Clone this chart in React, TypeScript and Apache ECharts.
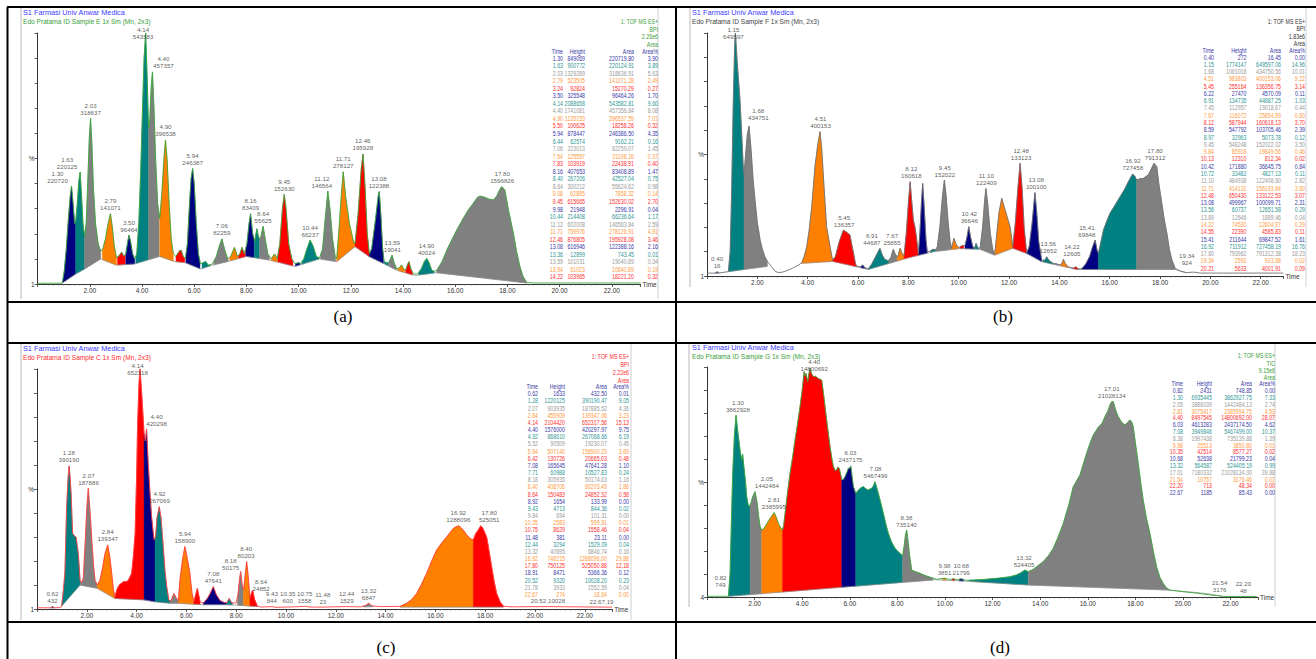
import React, { useEffect, useRef } from 'react';
import * as echarts from 'echarts';

const FONT = '"Liberation Sans", Arial, Helvetica, sans-serif';
const FILL = ['#000080', '#008080', '#808080', '#ff8000', '#ff0000'];
const TXT = ['#3a3aa6', '#2e9696', '#9a9a9a', '#ff9a40', '#ff3030'];
const COL_HEAD = ['Time', 'Height', 'Area', 'Area%'];
const INSTITUTE = 'S1 Farmasi Univ Anwar Medica';

// ================= Panel (a) =================
const curveA = [[0,0.3],[0.9,0.3],[0.95,0.6],[1.02,5],[1.1,14],[1.18,26],[1.25,35],[1.3,39],[1.36,32],[1.42,24],[1.46,25],[1.52,32],[1.58,41],[1.63,44.6],[1.68,36],[1.74,24],[1.8,19],[1.86,24],[1.92,40],[1.98,58],[2.03,66],[2.08,56],[2.14,38],[2.22,24],[2.32,16],[2.42,13],[2.5,14],[2.6,18],[2.7,24],[2.79,28],[2.86,23],[2.94,15],[3.02,10.5],[3.1,11],[3.2,12.5],[3.24,12.5],[3.3,11],[3.38,12],[3.44,16],[3.5,19.5],[3.56,17],[3.64,12],[3.72,10],[3.8,12],[3.88,25],[3.95,45],[4.02,70],[4.08,90],[4.14,100],[4.2,82],[4.25,62],[4.3,66],[4.35,78],[4.4,84.5],[4.46,70],[4.52,50],[4.6,32],[4.68,26],[4.76,36],[4.84,50],[4.9,57.4],[4.96,50],[5.04,32],[5.12,18],[5.2,12],[5.3,11],[5.42,13],[5.5,13.5],[5.58,11],[5.66,10],[5.74,16],[5.82,32],[5.88,42],[5.94,46],[6.0,40],[6.08,24],[6.16,12],[6.24,8],[6.34,8.5],[6.44,9],[6.54,7.5],[6.7,8],[6.85,11],[6.96,15],[7.06,18],[7.16,14],[7.28,10],[7.4,11],[7.54,14.6],[7.66,11],[7.75,12],[7.83,14.6],[7.92,12],[8.02,16],[8.1,24],[8.16,28],[8.24,20],[8.32,17],[8.4,22],[8.48,18],[8.56,19],[8.64,23],[8.72,18],[8.82,12],[8.95,10],[9.08,12],[9.18,10],[9.28,16],[9.38,30],[9.45,35.7],[9.52,30],[9.62,16],[9.74,10],[9.86,8],[9.98,8.5],[10.08,8.2],[10.2,10],[10.32,14],[10.44,17.5],[10.56,15],[10.68,11],[10.8,10.3],[10.92,14],[11.02,26],[11.12,37],[11.2,30],[11.3,18],[11.4,11],[11.46,10],[11.55,22],[11.64,36],[11.71,44.7],[11.8,35],[11.95,24],[12.1,17],[12.16,16],[12.28,28],[12.4,46],[12.47,51.8],[12.55,38],[12.63,20],[12.71,12],[12.8,14],[12.95,26],[13.05,35],[13.09,36.8],[13.15,28],[13.22,14],[13.28,9],[13.36,8.5],[13.45,8.5],[13.52,10],[13.58,11.5],[13.66,8.5],[13.76,6],[13.86,6.5],[13.95,7.6],[14.02,6],[14.1,5.5],[14.18,8],[14.23,8.9],[14.3,6],[14.4,4],[14.55,4],[14.7,6],[14.82,9],[14.91,10.2],[15.0,8.5],[15.1,5.5],[15.2,5],[15.3,5.5],[15.5,9],[15.7,14],[15.93,18.8],[16.06,21.5],[16.3,26],[16.5,29.5],[16.69,32.1],[16.85,34.5],[16.95,35],[17.05,34.8],[17.14,34.5],[17.3,33.8],[17.46,33.5],[17.59,35],[17.7,37.5],[17.78,38.8],[17.9,37.5],[18.05,29],[18.23,20.2],[18.35,13],[18.48,6.9],[18.6,3],[18.74,0.6],[19.0,0.4],[23.1,0.4]];
const baseA = [[0.93,0.3],[1.46,4],[1.8,6],[2.42,10],[3.02,7.5],[3.72,8],[4.68,11],[5.22,9],[5.66,8.5],[6.24,6],[6.7,7.5],[7.3,9],[8.0,11],[8.9,9.5],[9.86,7],[10.8,10],[11.46,8.9],[12.16,14.9],[12.71,10.9],[13.25,8.2],[13.76,5.5],[14.4,3.5],[14.55,3.5],[15.29,4.5],[18.74,0.4]];
const segA = [[0.95,1.46,0],[1.46,1.8,1],[1.8,2.42,2],[2.48,3.02,3],[3.06,3.36,4],[3.38,3.72,0],[3.76,4.25,1],[4.25,4.66,2],[4.68,5.2,3],[5.3,5.64,4],[5.68,6.22,0],[6.3,6.6,1],[6.75,7.3,2],[7.36,7.68,3],[7.7,7.96,4],[7.98,8.3,0],[8.3,8.5,1],[8.5,8.88,2],[8.95,9.18,3],[9.2,9.78,4],[9.88,10.06,0],[10.12,10.78,1],[10.84,11.42,2],[11.46,12.16,3],[12.16,12.71,4],[12.71,13.25,0],[13.28,13.44,1],[13.46,13.74,2],[13.8,14.06,3],[14.1,14.36,4],[14.6,15.2,1],[15.29,18.74,2]];
const labelsA = [[1.30,39,'220720'],[1.63,44.6,'220125'],[2.03,66,'318637'],[2.79,28,'141071'],[3.50,19.5,'96464'],[4.14,100,'543583'],[4.40,84.5,'457357'],[4.90,57.4,'396538'],[5.94,46,'246387'],[7.06,18,'82259'],[8.16,28,'83409'],[8.64,23,'55625'],[9.45,35.7,'152630'],[10.44,17.5,'66237'],[11.12,37,'146564'],[11.71,44.7,'278127'],[12.46,51.8,'195928'],[13.08,36.8,'122388'],[13.59,11.5,'19041'],[14.90,10.2,'40024'],[17.80,38.8,'1596826']];
const headA = ['1: TOF MS ES+', 'BPI', '2.26e6', 'Area'];
const rowsA = [
  ['1.30','849069','220719.80','3.90'],['1.63','900772','220124.91','3.89'],['2.03','1329289','318636.91','5.63'],['2.79','523505','141071.28','2.49'],['3.24','92824','15270.29','0.27'],
  ['3.50','325548','96464.26','1.70'],['4.14','2088658','543582.81','9.60'],['4.40','1741081','457356.84','8.08'],['4.90','1135153','396537.59','7.01'],['5.50','100625','18258.26','0.32'],
  ['5.94','878447','246386.50','4.35'],['6.44','62574','9162.21','0.16'],['7.06','223013','82259.07','1.45'],['7.54','125557','21198.16','0.37'],['7.83','103919','22438.91','0.40'],
  ['8.16','407653','83408.89','1.47'],['8.40','267206','42527.04','0.75'],['8.64','300212','55624.62','0.98'],['9.08','62895','7858.32','0.14'],['9.45','615665','152630.02','2.70'],
  ['9.98','21948','2296.91','0.04'],['10.44','214408','66236.64','1.17'],['11.12','602008','146563.84','2.59'],['11.71','759976','278126.91','4.91'],['12.46','876805','195928.08','3.46'],
  ['13.08','616946','122388.16','2.16'],['13.36','12899','743.45','0.01'],['13.59','101031','19040.89','0.34'],['13.94','51023','10640.89','0.19'],['14.22','103965','18221.20','0.32']
];

// ================= Panel (b) =================
const curveB = [[0,1.2],[0.35,1.2],[0.4,1.8],[0.45,1.2],[0.85,1.8],[0.92,10],[0.98,35],[1.04,70],[1.1,95],[1.13,100],[1.2,88],[1.31,72.4],[1.38,58],[1.44,45],[1.47,42],[1.52,48],[1.6,58],[1.67,61.7],[1.75,52],[1.83,40],[1.91,31],[2.0,22],[2.11,14.8],[2.2,11],[2.3,7.9],[2.4,6],[2.57,3.8],[2.7,2],[2.83,1.4],[3.0,1.6],[3.17,2.2],[3.4,3.2],[3.63,4.5],[3.76,5.4],[3.86,8],[3.96,12],[4.06,19],[4.16,28.5],[4.29,45],[4.4,54],[4.49,59.4],[4.56,52],[4.65,36.7],[4.75,20.3],[4.89,12],[4.99,6.5],[5.1,8],[5.25,14],[5.35,17],[5.42,18.9],[5.55,18],[5.68,16.9],[5.75,13],[5.82,9.5],[5.9,5],[5.95,4],[6.1,3.8],[6.19,4.5],[6.26,3.5],[6.41,2.9],[6.55,5],[6.7,8],[6.87,11.4],[6.95,9],[7.05,7],[7.2,6.2],[7.3,7.5],[7.4,11],[7.5,8.5],[7.58,8],[7.67,11.4],[7.76,9],[7.83,8.5],[7.92,18],[8.0,30],[8.07,38.8],[8.14,30],[8.2,23],[8.26,20.3],[8.32,16],[8.4,9],[8.46,18],[8.52,30],[8.57,38.1],[8.63,28],[8.7,15],[8.75,10],[8.85,10.2],[8.98,11],[9.08,10.8],[9.15,12],[9.25,20],[9.35,32],[9.43,39.5],[9.5,33],[9.58,22],[9.66,14],[9.72,11.5],[9.81,15.5],[9.9,13],[10.0,11.6],[10.13,12.5],[10.25,12.5],[10.33,16],[10.4,20.3],[10.47,16],[10.56,12],[10.63,11.5],[10.69,13.5],[10.76,11.5],[10.85,11.5],[10.95,20],[11.03,31],[11.08,36],[11.15,30],[11.25,18],[11.35,11],[11.43,9],[11.5,16],[11.6,26],[11.71,32],[11.85,27],[12.04,20.3],[12.15,12],[12.25,22],[12.35,36],[12.44,46.4],[12.52,36],[12.6,20],[12.7,9.5],[12.8,12],[12.92,22],[13.03,34.3],[13.1,26],[13.18,14],[13.3,6.5],[13.42,6.5],[13.5,7.9],[13.58,6.5],[13.75,5.2],[13.89,5],[14.0,4.6],[14.1,5],[14.16,6.9],[14.24,5],[14.35,3.8],[14.55,3.2],[14.65,3.8],[14.75,3],[14.89,3],[15.05,5],[15.2,8],[15.32,12],[15.42,14.8],[15.5,10.5],[15.55,9.3],[15.65,14],[15.75,18.9],[15.88,22.5],[16.01,25.8],[16.2,29],[16.41,32.6],[16.58,35.5],[16.74,38.8],[16.91,42],[17.0,41],[17.07,39.5],[17.2,40],[17.34,40.2],[17.53,41.6],[17.65,44],[17.76,46.4],[17.87,45],[17.95,38],[18.07,29.9],[18.17,23],[18.27,17.6],[18.37,11],[18.47,6.6],[18.6,3.2],[18.8,2],[19.06,1.4],[19.34,1.6],[19.6,1.2],[22.9,1.2]];
const baseB = [[0.33,1.2],[0.47,1.2],null,[0.85,1.8],[2.4,4],null,[3.76,5.2],[4.99,6],[5.95,3.8],[6.41,2.7],[7.93,7.3],[8.99,10],[10.05,11.3],[10.85,11],[11.43,8.6],[12.15,11.4],[12.7,9.3],[13.3,5.9],[14.69,2.7],[18.6,2.7],[19.06,1.2]];
const segB = [[0.33,0.47,0],[0.85,1.47,1],[1.47,2.4,2],[3.76,4.99,3],[4.99,5.95,4],[6.1,6.3,0],[6.41,7.22,1],[7.22,7.56,2],[7.56,7.83,3],[7.83,8.4,4],[8.4,8.75,0],[8.88,9.08,1],[9.1,9.72,2],[9.72,10.0,3],[10.05,10.2,4],[10.25,10.6,0],[10.62,10.8,1],[10.85,11.43,2],[11.43,12.15,3],[12.15,12.7,4],[12.7,13.3,0],[13.35,13.75,1],[13.78,14.0,2],[14.04,14.35,3],[14.5,14.75,4],[14.89,15.55,0],[15.55,17.07,1],[17.07,18.6,2]];
const labelsB = [[0.40,1.8,'16'],[1.15,100,'649597'],[1.68,61.7,'434751'],[4.51,59.4,'400153'],[5.45,18.9,'136357'],[6.91,11.4,'44687'],[7.67,11.4,'25855'],[8.12,38.8,'160618'],[9.45,39.5,'152022'],[10.42,20.3,'36646'],[11.10,36,'122409'],[12.48,46.4,'133123'],[13.08,34.3,'100100'],[13.56,7.9,'12652'],[14.22,6.9,'12605'],[15.41,14.8,'69848'],[16.92,42,'727458'],[17.80,46.4,'791312'],[19.34,1.6,'924']];
const headB = ['1: TOF MS ES+', 'BPI', '1.83e6', 'Area'];
const rowsB = [
  ['0.40','272','16.45','0.00'],['1.15','1774147','649597.06','14.96'],['1.68','1061018','434750.56','10.01'],['4.51','983803','400153.06','9.22'],['5.45','255164','136356.75','3.14'],
  ['6.22','27470','4570.09','0.11'],['6.91','134735','44687.25','1.03'],['7.45','112957','19018.67','0.44'],['7.67','116072','25854.99','0.60'],['8.12','587944','160618.13','3.70'],
  ['8.59','547792','103705.46','2.39'],['8.97','32963','5073.78','0.12'],['9.45','548248','152022.02','3.50'],['9.84','85918','19849.56','0.46'],['10.13','12310','812.34','0.02'],
  ['10.42','171880','36645.75','0.84'],['10.72','33482','4827.13','0.11'],['11.10','484938','122408.60','2.82'],['11.71','414131','156193.64','3.60'],['12.48','650430','133122.53','3.07'],
  ['13.08','499967','100099.71','2.31'],['13.56','60737','12651.58','0.29'],['13.89','12646','1889.46','0.04'],['14.22','74530','12604.97','0.29'],['14.55','22390','4585.83','0.11'],
  ['15.41','211644','69847.52','1.61'],['16.92','711912','727458.19','16.76'],['17.80','793962','791312.38','18.23'],['19.34','2593','923.68','0.02'],['20.21','5633','4001.91','0.09']
];

// ================= Panel (c) =================
const curveC = [[0,0.5],[0.55,0.5],[0.62,1],[0.7,0.5],[0.95,0.6],[0.99,1.2],[1.06,8],[1.12,15],[1.19,42.6],[1.25,55],[1.29,59.6],[1.33,55],[1.37,48],[1.43,31.5],[1.5,30.5],[1.57,30],[1.66,23],[1.73,12],[1.8,11],[1.86,13],[1.94,28.8],[2.0,42],[2.06,50.3],[2.12,42],[2.2,28.8],[2.27,18],[2.33,12],[2.42,10],[2.53,12],[2.63,17],[2.73,23],[2.84,26.7],[2.92,22],[3.0,14.9],[3.07,8],[3.13,5],[3.2,7.9],[3.3,10],[3.47,11.4],[3.6,11.5],[3.67,12],[3.8,14.9],[3.87,22],[3.94,31.5],[4.0,55],[4.04,77],[4.1,95],[4.14,100],[4.19,92],[4.24,84],[4.3,73],[4.35,70],[4.4,75],[4.47,60],[4.54,48],[4.6,38.5],[4.7,28.8],[4.76,30],[4.82,38],[4.91,42.6],[4.98,38],[5.07,26],[5.14,16],[5.21,9.3],[5.3,3.5],[5.38,3.5],[5.5,6.5],[5.6,4.5],[5.68,3.5],[5.74,12],[5.85,21],[5.94,26],[6.02,22],[6.14,14.9],[6.22,7],[6.3,3],[6.44,8.6],[6.55,3],[6.68,2.5],[6.85,4.5],[6.98,7],[7.08,9.3],[7.2,6],[7.35,3.5],[7.5,2.8],[7.62,2.5],[7.72,4.4],[7.82,2.6],[8.0,2.5],[8.07,6],[8.14,13],[8.18,15.6],[8.24,10],[8.3,8],[8.36,14],[8.42,19.7],[8.48,14],[8.55,4.5],[8.62,7],[8.66,7.9],[8.74,4],[8.85,1.2],[9.0,0.8],[9.43,1],[9.6,0.7],[10.35,0.9],[10.75,1.1],[11.0,0.8],[11.48,0.8],[12.44,1],[13.0,0.9],[13.2,1.5],[13.32,2.4],[13.45,1.3],[13.8,1],[14.58,1.1],[14.85,2.4],[15.05,4],[15.25,6.5],[15.45,10.5],[15.65,14.9],[15.85,20],[16.05,24.6],[16.25,27.5],[16.45,30],[16.6,32],[16.72,33.6],[16.92,34.7],[17.02,34],[17.12,32.9],[17.25,31],[17.39,29.4],[17.52,28.8],[17.62,31.5],[17.72,32.9],[17.82,34.7],[17.9,33.8],[18.06,30],[18.16,24],[18.26,17.6],[18.36,11.5],[18.46,6.5],[18.6,3],[18.73,1.2],[19.0,0.9],[20.5,1],[22.7,0.8],[23.1,0.8]];
const baseC = [[0.55,0.5],[0.7,0.5],null,[0.99,1.2],[1.73,10],[2.42,8.6],[3.13,4.4],[4.3,3.8],[4.74,3],[5.34,2.4],[5.68,2.4],[6.3,2.0],[6.68,1.8],[7.62,1.8],[8.05,1.6],[8.85,1],null,[13.1,0.9],[13.5,1],null,[14.58,0.8],[18.73,0.8]];
const segC = [[0.55,0.7,0],[0.99,1.73,1],[1.73,2.42,2],[2.42,3.13,3],[3.13,4.3,4],[4.3,4.74,0],[4.74,5.34,1],[5.34,5.68,2],[5.68,6.3,3],[6.3,6.55,4],[6.68,7.62,0],[7.62,7.85,1],[8.05,8.29,2],[8.29,8.55,3],[8.55,8.85,4],[13.1,13.5,2],[14.58,17.52,3],[17.52,18.73,4]];
const labelsC = [[0.62,1,'432'],[1.28,59.6,'390190'],[2.07,50.3,'187886'],[2.84,26.7,'139347'],[4.14,100,'652318'],[4.40,75,'420298'],[4.92,42.6,'267069'],[5.94,26,'158900'],[7.08,9.3,'47641'],[8.18,15.6,'50175'],[8.40,19.7,'80203'],[8.64,7.9,'24852'],[9.43,1,'844'],[10.35,0.9,'600'],[10.75,1.1,'1558'],[11.48,0.8,'23'],[12.44,1,'1529'],[13.32,2.4,'6847'],[16.92,34.7,'1288096'],[17.80,34.7,'525051']];
const inlineC = [[20.52,1,'10028'],[22.67,0.8,'19']];
const headC = ['1: TOF MS ES+', 'BPI', '2.22e6', 'Area'];
const rowsC = [
  ['0.62','1633','432.50','0.01'],['1.28','1220125','390190.47','9.05'],['2.07','903935','187885.52','4.36'],['2.84','455909','139347.06','3.23'],['4.14','2104420','652317.56','15.13'],
  ['4.40','1576000','420297.97','9.75'],['4.92','868610','267068.66','6.19'],['5.52','90509','19230.07','0.45'],['5.94','507140','158900.23','3.69'],['6.42','130726','20665.03','0.48'],
  ['7.08','165645','47641.28','1.10'],['7.71','60988','10527.83','0.24'],['8.18','305935','50174.63','1.16'],['8.40','408706','80203.49','1.86'],['8.64','150483','24852.32','0.58'],
  ['8.92','1654','133.99','0.00'],['9.43','4713','844.36','0.02'],['9.84','694','101.31','0.00'],['10.35','2583','599.91','0.01'],['10.75','8629','1558.46','0.04'],
  ['11.48','381','23.11','0.00'],['12.44','3294','1529.09','0.04'],['13.32','40695','6846.74','0.16'],['16.92','748215','1288096.00','29.88'],['17.80','750125','525050.88','12.18'],
  ['18.91','8471','5366.36','0.12'],['20.52','9320','10028.20','0.23'],['21.78','3933','1552.59','0.04'],['22.67','274','18.64','0.00']
];

// ================= Panel (d) =================
const curveD = [[0,0.3],[0.82,0.3],[0.9,0.3],[0.97,10.3],[1.03,35],[1.08,53.8],[1.15,70],[1.22,79],[1.27,74],[1.32,69.7],[1.4,63],[1.46,59.6],[1.5,62],[1.55,56.7],[1.62,50],[1.67,43.6],[1.73,40],[1.78,39.3],[1.85,41],[1.92,43.6],[2.02,45.8],[2.11,40.7],[2.17,35],[2.23,30.6],[2.3,29.1],[2.37,29.5],[2.44,30.6],[2.55,32.5],[2.65,34.2],[2.74,35.5],[2.82,36.7],[2.9,35],[3.0,32],[3.1,30],[3.17,29.1],[3.22,31],[3.28,36.4],[3.38,45],[3.49,53.8],[3.6,61],[3.7,68.3],[3.8,75],[3.91,82.8],[4.0,90],[4.08,98],[4.12,96],[4.16,97.2],[4.23,93.6],[4.28,97],[4.33,99.4],[4.4,97],[4.47,95.8],[4.55,96],[4.68,95],[4.82,94.3],[4.9,88],[4.96,82.8],[5.05,75],[5.17,65.4],[5.25,60],[5.31,56.7],[5.38,55],[5.45,55.2],[5.5,56.5],[5.56,55.9],[5.62,53],[5.66,50.9],[5.72,51],[5.8,52.3],[5.87,54],[5.94,55.9],[6.0,56],[6.04,57],[6.1,52],[6.15,48],[6.25,45],[6.36,46.5],[6.47,47.5],[6.57,48],[6.68,47],[6.78,46.5],[6.85,47],[6.92,47.2],[7.0,48.5],[7.06,50.1],[7.12,48],[7.2,45],[7.3,41],[7.41,36.4],[7.52,31.5],[7.62,27.7],[7.75,24],[7.9,21.2],[8.0,20],[8.11,19],[8.22,17.8],[8.28,21.9],[8.34,27],[8.39,29.1],[8.44,25],[8.5,19],[8.6,11.7],[8.75,11],[8.95,10.3],[9.15,9.4],[9.37,8.6],[9.65,7.7],[9.98,8.2],[10.2,7.6],[10.35,7.9],[10.5,7.5],[10.68,7.9],[10.9,7.2],[11.2,7.4],[11.6,7.6],[12.17,8.1],[12.73,8.8],[13.0,9.6],[13.15,10.3],[13.36,11.7],[13.5,11],[13.7,12],[13.85,13.2],[14.13,15.4],[14.35,18],[14.55,21.2],[14.75,26],[14.97,32],[15.2,40],[15.39,48],[15.67,53],[15.95,62.5],[16.1,67],[16.23,70.4],[16.44,73.8],[16.6,75.5],[16.72,78.4],[16.85,81],[16.93,83.5],[17.01,85],[17.07,84.9],[17.18,81],[17.28,78.4],[17.42,76],[17.56,74.8],[17.68,76],[17.77,77],[17.85,76],[17.91,74],[18.0,67],[18.12,58],[18.22,50],[18.33,42],[18.47,34],[18.61,27.7],[18.75,20],[18.89,13.2],[19.03,8.5],[19.17,5.9],[19.3,4],[19.45,3],[20.0,2.3],[20.5,1.8],[21.13,0.9],[21.54,0.5],[21.69,0.2],[22.2,0.2],[23.1,0.2]];
const baseD = [[0.9,0.3],[9.6,7.5],[11.0,6.8],[13.5,5.2],[19.45,3.0],[21.0,1.5],[21.7,0.2]];
const segD = [[0.9,1.81,1],[1.81,2.3,2],[2.3,3.17,3],[3.17,5.66,4],[5.66,6.25,0],[6.25,8.22,1],[8.22,9.5,2],[9.9,10.05,3],[10.3,10.42,4],[10.6,10.78,0],[11.0,13.5,1],[13.5,19.45,2]];
const labelsD = [[0.82,0.3,'749'],[1.30,79,'3862928'],[2.05,45.8,'1442484'],[2.81,36.7,'2385995'],[4.40,99.4,'14800692'],[6.03,57,'2437175'],[7.08,50.1,'5467499'],[8.38,29.1,'735140'],[9.98,8.2,'3851'],[10.68,7.9,'21799'],[13.32,11.7,'524405'],[17.01,85,'21028134'],[21.54,0.5,'3176'],[22.20,0.2,'48']];
const headD = ['1: TOF MS ES+', 'TIC', '9.15e6', 'Area'];
const rowsD = [
  ['0.82','2431','748.85','0.00'],['1.30','6935445','3862927.75','7.33'],['2.05','3886039','1442484.13','2.74'],['2.81','3075417','2385994.75','4.53'],['4.40','8497545','14800692.00','28.07'],
  ['6.03','4613283','2437174.50','4.62'],['7.08','3949846','5467499.00','10.37'],['8.38','1997438','735139.88','1.39'],['9.98','25513','3850.80','0.01'],['10.35','42514','8577.27','0.02'],
  ['10.68','52638','21799.23','0.04'],['13.32','564587','524405.19','0.99'],['17.01','7180332','21028134.00','39.88'],['21.54','10757','3176.46','0.01'],['22.20','713','48.34','0.00'],['22.67','1185','85.43','0.00']
];

const captions = ['(a)', '(b)', '(c)', '(d)'];

const PANELS = [
  { curve: curveA, base: baseA, seg: segA, labels: labelsA, inline: [], head: headA, rows: rowsA, sample: 'Edo Pratama ID Sample E 1x Sm (Mn, 2x3)' },
  { curve: curveB, base: baseB, seg: segB, labels: labelsB, inline: [], head: headB, rows: rowsB, sample: 'Edo Pratama ID Sample F 1x Sm (Mn, 2x3)' },
  { curve: curveC, base: baseC, seg: segC, labels: labelsC, inline: inlineC, head: headC, rows: rowsC, sample: 'Edo Pratama ID Sample C 1x Sm (Mn, 2x3)' },
  { curve: curveD, base: baseD, seg: segD, labels: labelsD, inline: [], head: headD, rows: rowsD, sample: 'Edo Pratama ID Sample G 1x Sm (Mn, 2x3)' },
];

// ---------- layout / style (pixels) ----------
const LAYOUT = [
  { x0: 37.6, ppm: 26.1, tmax: 23.1, top: 33, bottom: 284, tx: 23, t1y: 12, t2y: 21, cols: [563, 585, 634, 658], headY: 21.5, headStep: 7.8, colHeadY: 51.7, rowY: 58.3, rowStep: 7.55,
    lineColor: '#3aa63a', titleColor: '#3a9e3a', headColor: '#3a9e3a', ylab0: '1', labelPos: { '4.14': 'left' },
    labelOff: { '1.30': [-14, 0], '1.63': [-13, 0], '4.40': [11, 0], '11.12': [-6, 0] }, frame: [21, 7, 658, 299] },
  { x0: 707, ppm: 25.17, tmax: 22.9, top: 33, bottom: 276, tx: 692, t1y: 12, t2y: 21, cols: [1214, 1246.5, 1281, 1305], headY: 21.7, headStep: 7.4, colHeadY: 50.7, rowY: 57.3, rowStep: 7.28,
    lineColor: '#707070', titleColor: '#444444', headColor: '#333333', ylab0: '1', labelPos: { '1.15': 'left' },
    labelOff: { '1.68': [9, -3], '6.91': [-9, 0], '7.67': [-8, 0], '14.22': [7, 0], '15.41': [-8, 0], '19.34': [-7, -4] }, frame: [690, 7, 1306, 287] },
  { x0: 37, ppm: 24.9, tmax: 23.1, top: 369, bottom: 609, tx: 23, t1y: 348, t2y: 357, cols: [538, 565, 607, 629], headY: 357, headStep: 7.9, colHeadY: 386.7, rowY: 394, rowStep: 7.17,
    lineColor: '#ff4040', titleColor: '#ff2a2a', headColor: '#ff2a2a', ylab0: '1', labelPos: { '4.14': 'left' },
    labelOff: { '4.40': [10, 0], '8.18': [-10, 2], '8.64': [9, 4], '10.35': [-7, 0], '17.80': [9, 0] }, frame: [21, 344, 631, 620] },
  { x0: 707, ppm: 23.8, tmax: 23.15, top: 367, bottom: 597, tx: 692, t1y: 347, t2y: 356, cols: [1183, 1212, 1252, 1275], headY: 356, headStep: 7.3, colHeadY: 383.5, rowY: 391, rowStep: 6.8,
    lineColor: '#3aa63a', titleColor: '#3a9e3a', headColor: '#3a9e3a', ylab0: '4', labelPos: { '4.40': 'right' },
    labelOff: { '4.40': [0, -3], '2.05': [11, 0], '22.20': [8, 0], '0.82': [-6, -6] }, frame: [689, 344, 1275, 607] },
];
const TABLE_FONT = 6.6;
const TABLE_SCALE_X = 0.8;
const CAPTION_POS = [[343, 316], [1003, 316], [386, 647], [1000, 647]];
const HLINES = [[7, 7, 1316], [302, 7, 1316], [343, 7, 1316], [622, 7, 1316]];
const VLINES = [[7.5, 7, 659], [676, 7, 659]];

function interp(arr: any[], t: number): number | null {
  for (let i = 0; i < arr.length - 1; i++) {
    const a = arr[i], b = arr[i + 1];
    if (!a || !b) continue;
    if (t >= a[0] - 1e-9 && t <= b[0] + 1e-9) {
      const f = b[0] === a[0] ? 0 : (t - a[0]) / (b[0] - a[0]);
      return a[1] + f * (b[1] - a[1]);
    }
  }
  return null;
}

function txt(text: string, x: number, y: number, fill: string, size: number, align = 'left', family = FONT, sx = 1) {
  return {
    type: 'text', silent: true, z: 50, x, y, scaleX: sx, scaleY: 1,
    style: { text, x: 0, y: 0, fill, fontSize: size, fontFamily: family, align, textAlign: align, verticalAlign: 'middle', textVerticalAlign: 'middle' },
  };
}

function buildOption() {
  const grid: any[] = [], xAxis: any[] = [], yAxis: any[] = [], series: any[] = [], graphic: any[] = [];
  PANELS.forEach((P, i) => {
    const L: any = LAYOUT[i];
    grid.push({ left: L.x0, top: L.top, width: L.tmax * L.ppm, height: L.bottom - L.top });
    xAxis.push({
      gridIndex: i, type: 'value', min: 0, max: L.tmax, interval: 2,
      axisLine: { lineStyle: { color: '#333', width: 1 } },
      axisTick: { length: 3, lineStyle: { color: '#333', width: 0.8 } },
      minorTick: { show: true, splitNumber: 10, length: 1.5, lineStyle: { color: '#555', width: 0.6 } },
      splitLine: { show: false },
      axisLabel: {
        fontSize: 6.5, color: '#333', fontFamily: FONT, margin: 3,
        formatter: (v: number) => (v > 0 && Math.abs(v / 2 - Math.round(v / 2)) < 1e-6 ? v.toFixed(2) : ''),
      },
      name: 'Time', nameLocation: 'end', nameGap: 2,
      nameTextStyle: { fontSize: 6.5, color: '#333', fontFamily: FONT, verticalAlign: 'middle' },
    });
    yAxis.push({
      gridIndex: i, type: 'value', min: 0, max: 100, interval: 10,
      axisLine: { show: true, lineStyle: { color: '#333', width: 1 } },
      axisTick: { show: true, length: 3, lineStyle: { color: '#333', width: 0.8 } },
      splitLine: { show: false },
      axisLabel: { fontSize: 6.5, color: '#333', fontFamily: FONT, margin: 3, formatter: (v: number) => (v === 0 ? L.ylab0 : v === 50 ? '%' : '') },
    });
    const curve = P.curve, base = P.base;
    series.push({
      type: 'custom', xAxisIndex: i, yAxisIndex: i, silent: true, z: 2,
      data: P.seg,
      renderItem: (params: any, api: any) => {
        const s = api.value(0), e = api.value(1), c = api.value(2);
        const cs = interp(curve, s), ce = interp(curve, e);
        if (cs === null || ce === null) return null;
        let bs = interp(base, s), be = interp(base, e);
        const pts: number[][] = [];
        pts.push(api.coord([s, cs]));
        curve.forEach((p: number[]) => { if (p[0] > s && p[0] < e) pts.push(api.coord(p)); });
        pts.push(api.coord([e, ce]));
        if (bs === null || be === null) {
          bs = Math.min(cs, ce); be = bs;
          pts.push(api.coord([e, be]));
          pts.push(api.coord([s, bs]));
        } else {
          pts.push(api.coord([e, be]));
          const inner = base.filter((p: any) => p && p[0] > s && p[0] < e).reverse();
          inner.forEach((p: number[]) => pts.push(api.coord(p)));
          pts.push(api.coord([s, bs]));
        }
        return { type: 'polygon', shape: { points: pts }, style: { fill: FILL[c], stroke: FILL[c], lineWidth: 0.4 } };
      },
    });
    series.push({
      type: 'line', xAxisIndex: i, yAxisIndex: i, silent: true, z: 3, symbol: 'none',
      data: base.map((p: any) => (p ? p : ['-', '-'])), connectNulls: false,
      lineStyle: { color: '#8a8a8a', width: 0.7 },
    });
    series.push({
      type: 'line', xAxisIndex: i, yAxisIndex: i, silent: true, z: 4, symbol: 'none',
      data: curve, lineStyle: { color: L.lineColor, width: 0.9 },
    });
    series.push({
      type: 'scatter', xAxisIndex: i, yAxisIndex: i, silent: true, z: 6, symbolSize: 1,
      itemStyle: { color: 'rgba(0,0,0,0)' },
      data: P.labels.map((l: any) => {
        const key = l[0].toFixed(2);
        return {
          value: [l[0], l[1]], name: key + '\n' + l[2],
          label: { position: L.labelPos[key] || 'top', offset: L.labelOff[key] || [0, 0] },
        };
      }).concat(P.inline.map((l: any) => ({ value: [l[0], l[1]], name: l[0].toFixed(2) + ',' + l[2], label: { position: 'top', offset: [0, 0] } }))),
      label: { show: true, formatter: '{b}', fontSize: 6.2, lineHeight: 7, color: '#333', fontFamily: FONT, distance: 2, align: 'center' },
    });

    // titles
    graphic.push(txt(INSTITUTE, L.tx, L.t1y, '#3c3cff', 7.3));
    graphic.push(txt(P.sample, L.tx, L.t2y, L.titleColor, 6.6));
    // header block + peak table
    P.head.forEach((h: string, k: number) => graphic.push(txt(h, L.cols[3], L.headY + k * L.headStep, L.headColor, TABLE_FONT, 'right', FONT, TABLE_SCALE_X)));
    COL_HEAD.forEach((h, k) => graphic.push(txt(h, L.cols[k], L.colHeadY, TXT[0], TABLE_FONT, 'right', FONT, TABLE_SCALE_X)));
    P.rows.forEach((r: string[], ri: number) => {
      r.forEach((v, k) => graphic.push(txt(v, L.cols[k], L.rowY + ri * L.rowStep, TXT[ri % 5], TABLE_FONT, 'right', FONT, TABLE_SCALE_X)));
    });
    // image frame (left & right edges)
    const f = L.frame;
    graphic.push({ type: 'line', silent: true, shape: { x1: f[0], y1: f[1], x2: f[0], y2: f[3] }, style: { stroke: '#b8b8b8', lineWidth: 1 } });
    graphic.push({ type: 'line', silent: true, shape: { x1: f[2], y1: f[1], x2: f[2], y2: f[3] }, style: { stroke: '#d0d0d0', lineWidth: 1 } });
    graphic.push(txt(captions[i], CAPTION_POS[i][0], CAPTION_POS[i][1], '#000', 17, 'center', '"Liberation Serif", "Times New Roman", serif'));
  });
  HLINES.forEach((h) => graphic.push({ type: 'line', silent: true, z: 60, shape: { x1: h[1], y1: h[0], x2: h[2], y2: h[0] }, style: { stroke: '#000', lineWidth: 2 } }));
  VLINES.forEach((v) => graphic.push({ type: 'line', silent: true, z: 60, shape: { x1: v[0], y1: v[1], x2: v[0], y2: v[2] }, style: { stroke: '#000', lineWidth: 2 } }));

  return { animation: false, backgroundColor: '#ffffff', grid, xAxis, yAxis, series, graphic };
}

export default function App() {
  const ref = useRef<HTMLDivElement>(null);
  useEffect(() => {
    const chart = echarts.init(ref.current as HTMLDivElement, null, { renderer: 'svg' });
    chart.setOption(buildOption() as any);
    return () => chart.dispose();
  }, []);
  return <div ref={ref} style={{ position: 'absolute', left: 0, top: 0, width: 1316, height: 659, background: '#fff' }} />;
}
